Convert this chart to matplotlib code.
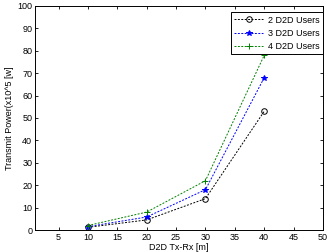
import matplotlib
matplotlib.use('Agg')
import matplotlib.pyplot as plt

# distance Tx-Rx
dist = [10, 20, 30, 40]
# transmit power for each number of D2D users
users2 = [1.2, 4.5, 14, 53]
users3 = [1.5, 5.8, 18, 68]
users4 = [2.0, 8.0, 22, 78]
labels = ['2 D2D Users', '3 D2D Users', '4 D2D Users']

plt.rcParams['font.family'] = ['Liberation Sans', 'DejaVu Sans']
plt.rcParams['font.size'] = 6.5

fig = plt.figure(figsize=(3.3, 2.52), dpi=100)
ax = fig.add_axes([35/330, 1 - 230/252, 288/330, 224/252])

ax.plot(dist, users2, 'k--', marker='o', mfc='none', ms=4, mew=0.7, lw=0.7, dashes=(2, 1.5), label=labels[0])
ax.plot(dist, users3, 'b--', marker='*', ms=4, mew=0.7, lw=0.7, dashes=(2, 1.5), label=labels[1])
ax.plot(dist, users4, 'g--', marker='+', ms=5, mew=0.7, lw=0.7, dashes=(2, 1.5), label=labels[2])

ax.set_xlim(1, 50)
ax.set_ylim(0, 100)
ax.set_xticks(range(5, 51, 5))
ax.set_yticks(range(0, 101, 10))
ax.tick_params(direction='in', top=True, right=True, length=2.5, width=0.6, pad=2)
for s in ax.spines.values():
    s.set_linewidth(0.7)

ax.set_xlabel('D2D Tx-Rx [m]', labelpad=1)
ax.set_ylabel('Transmit Power(x10^5 [w]', labelpad=2)

leg = ax.legend(loc='upper right', bbox_to_anchor=(1.0, 1 - 6/224), fancybox=False,
                framealpha=1, edgecolor='k', handlelength=3.2, borderaxespad=0,
                labelspacing=0.45, handletextpad=0.5, borderpad=0.4)
leg.get_frame().set_linewidth(0.7)

fig.savefig('out.png', dpi=100)
